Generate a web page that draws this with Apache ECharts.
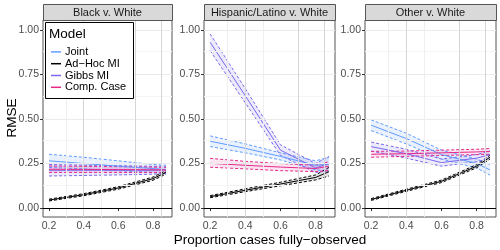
<!DOCTYPE html>
<html><head><meta charset="utf-8">
<script src="https://cdn.jsdelivr.net/npm/echarts@6/dist/echarts.min.js"></script>
<style>html,body{margin:0;padding:0;background:#fff}#c{width:500px;height:250px}</style>
</head><body><div id="c"></div>
<script>
// ---------- data ----------
const xValues = [0.2, 0.4, 0.6, 0.8, 0.875];
const panelTitles = ['Black v. White', 'Hispanic/Latino v. White', 'Other v. White'];
const modelNames = ['Joint', 'Ad\u2212Hoc MI', 'Gibbs MI', 'Comp. Case'];
const yTickValues = [0, 0.25, 0.5, 0.75, 1];
const xTickValues = [0.2, 0.4, 0.6, 0.8];
const yMajorGrid = [0, 0.25, 0.5, 0.75, 1];
const yMinorGrid = [0.125, 0.375, 0.625, 0.875];
const xDarkGrid = [0.4, 0.7, 0.85];
const xLightGrid = [0.3, 0.5];

// Black v. White
const blackJoint   = [0.265, 0.250, 0.235, 0.222, 0.215];
const blackJointLo = [0.228, 0.220, 0.210, 0.200, 0.195];
const blackJointHi = [0.302, 0.285, 0.265, 0.245, 0.240];
const blackAdhoc   = [0.045, 0.075, 0.113, 0.165, 0.200];
const blackAdhocLo = [0.040, 0.069, 0.106, 0.156, 0.190];
const blackAdhocHi = [0.050, 0.081, 0.120, 0.174, 0.210];
const blackGibbs   = [0.212, 0.212, 0.212, 0.212, 0.215];
const blackGibbsLo = [0.180, 0.183, 0.186, 0.190, 0.195];
const blackGibbsHi = [0.244, 0.241, 0.238, 0.234, 0.235];
const blackComp    = [0.218, 0.217, 0.216, 0.215, 0.213];
const blackCompLo  = [0.200, 0.200, 0.200, 0.200, 0.200];
const blackCompHi  = [0.236, 0.234, 0.232, 0.230, 0.228];

// Hispanic/Latino v. White
const hispJoint   = [0.375, 0.335, 0.290, 0.240, 0.245];
const hispJointLo = [0.345, 0.310, 0.270, 0.215, 0.205];
const hispJointHi = [0.405, 0.360, 0.310, 0.265, 0.285];
const hispAdhoc   = [0.064, 0.100, 0.135, 0.172, 0.204];
const hispAdhocLo = [0.058, 0.092, 0.125, 0.158, 0.180];
const hispAdhocHi = [0.070, 0.108, 0.145, 0.186, 0.228];
const hispGibbs   = [0.930, 0.630, 0.325, 0.225, 0.250];
const hispGibbsLo = [0.883, 0.590, 0.295, 0.200, 0.210];
const hispGibbsHi = [0.977, 0.670, 0.355, 0.250, 0.290];
const hispComp    = [0.251, 0.240, 0.230, 0.222, 0.235];
const hispCompLo  = [0.229, 0.220, 0.210, 0.205, 0.210];
const hispCompHi  = [0.279, 0.262, 0.250, 0.240, 0.260];

// Other v. White
const otherJoint   = [0.465, 0.390, 0.300, 0.250, 0.215];
const otherJointLo = [0.435, 0.360, 0.275, 0.225, 0.185];
const otherJointHi = [0.495, 0.420, 0.325, 0.275, 0.245];
const otherAdhoc   = [0.048, 0.100, 0.150, 0.235, 0.285];
const otherAdhocLo = [0.043, 0.094, 0.143, 0.226, 0.274];
const otherAdhocHi = [0.053, 0.106, 0.157, 0.244, 0.296];
const otherGibbs   = [0.345, 0.305, 0.255, 0.280, 0.300];
const otherGibbsLo = [0.320, 0.280, 0.235, 0.260, 0.280];
const otherGibbsHi = [0.370, 0.330, 0.275, 0.300, 0.320];
const otherComp    = [0.302, 0.305, 0.310, 0.315, 0.318];
const otherCompLo  = [0.285, 0.290, 0.295, 0.300, 0.302];
const otherCompHi  = [0.318, 0.320, 0.325, 0.330, 0.334];

// ---------- assembly ----------
const panels = [
  [[blackJoint, blackJointLo, blackJointHi], [blackAdhoc, blackAdhocLo, blackAdhocHi], [blackGibbs, blackGibbsLo, blackGibbsHi], [blackComp, blackCompLo, blackCompHi]],
  [[hispJoint, hispJointLo, hispJointHi], [hispAdhoc, hispAdhocLo, hispAdhocHi], [hispGibbs, hispGibbsLo, hispGibbsHi], [hispComp, hispCompLo, hispCompHi]],
  [[otherJoint, otherJointLo, otherJointHi], [otherAdhoc, otherAdhocLo, otherAdhocHi], [otherGibbs, otherGibbsLo, otherGibbsHi], [otherComp, otherCompLo, otherCompHi]]
];
const colors = ['#619CFF', '#000000', '#7B68EE', '#E7298A'];
const ribbonFill = ['rgba(97,156,255,0.14)', 'rgba(0,0,0,0.12)', 'rgba(123,104,238,0.14)', 'rgba(231,41,138,0.12)'];
const gridLeft = [43, 204, 365];
const gridWidth = [129, 131, 131];
const gridTop = 20, gridHeight = 197;
const FONT = 'Liberation Sans, Arial, sans-serif';

const pts = arr => xValues.map((x, i) => [x, arr[i]]);

const grids = [], xAxes = [], yAxes = [], series = [], graphics = [];
for (let p = 0; p < 3; p++) {
  grids.push({ left: gridLeft[p], top: gridTop, width: gridWidth[p], height: gridHeight,
    show: true, borderColor: '#555', borderWidth: 1, backgroundColor: '#fff' });
  xAxes.push({ type: 'value', gridIndex: p, min: 0.165, max: 0.91,
    axisLine: { show: false }, splitLine: { show: false },
    axisTick: { show: true, customValues: xTickValues, length: 3, lineStyle: { color: '#333' } },
    axisLabel: { customValues: xTickValues, formatter: v => v.toFixed(1), color: '#4D4D4D', fontSize: 10.5, fontFamily: FONT, margin: 4 } });
  yAxes.push({ type: 'value', gridIndex: p, min: -0.05, max: 1.055,
    axisLine: { show: false }, splitLine: { show: false },
    axisTick: { show: true, customValues: yTickValues, length: 3, lineStyle: { color: '#333' } },
    axisLabel: { customValues: yTickValues, formatter: v => v.toFixed(2), color: '#4D4D4D', fontSize: 10.5, fontFamily: FONT, margin: 4 } });

  // grid lines
  const gl = [];
  yMinorGrid.forEach(v => gl.push({ yAxis: v, lineStyle: { color: '#F4F4F4', width: 1, type: 'solid' } }));
  yMajorGrid.forEach(v => gl.push({ yAxis: v, lineStyle: { color: '#EBEBEB', width: 1, type: 'solid' } }));
  xLightGrid.forEach(v => gl.push({ xAxis: v, lineStyle: { color: '#EFEFEF', width: 1, type: 'solid' } }));
  xDarkGrid.forEach(v => gl.push({ xAxis: v, lineStyle: { color: '#D6D6D6', width: 1, type: 'solid' } }));
  series.push({ type: 'line', name: 'grid' + p, xAxisIndex: p, yAxisIndex: p, data: [], z: 0, silent: true,
    markLine: { silent: true, symbol: ['none', 'none'], label: { show: false }, animation: false, data: gl } });

  for (let m = 0; m < 4; m++) {
    const [mean, lo, hi] = panels[p][m];
    series.push({ type: 'line', name: modelNames[m], xAxisIndex: p, yAxisIndex: p, data: pts(mean),
      symbol: 'none', z: 4, lineStyle: { color: colors[m], width: 1 }, itemStyle: { color: colors[m] }, animation: false });
    [lo, hi].forEach(b => series.push({ type: 'line', name: modelNames[m], xAxisIndex: p, yAxisIndex: p, data: pts(b),
      symbol: 'none', z: 3, lineStyle: { color: colors[m], width: 1, type: [3, 2] }, itemStyle: { color: colors[m] }, animation: false }));
    series.push({ type: 'custom', name: modelNames[m], xAxisIndex: p, yAxisIndex: p, z: 2, silent: true, animation: false,
      data: [[xValues[0], lo[0]]],
      renderItem: (params, api) => {
        const poly = [];
        for (let i = 0; i < xValues.length; i++) poly.push(api.coord([xValues[i], hi[i]]));
        for (let i = xValues.length - 1; i >= 0; i--) poly.push(api.coord([xValues[i], lo[i]]));
        return { type: 'polygon', shape: { points: poly }, style: { fill: ribbonFill[m], stroke: null } };
      } });
  }
  // zero reference line
  series.push({ type: 'line', name: 'zero' + p, xAxisIndex: p, yAxisIndex: p, data: [], z: 5, silent: true,
    markLine: { silent: true, symbol: ['none', 'none'], label: { show: false }, animation: false,
      data: [{ yAxis: 0, lineStyle: { color: '#000', width: 1, type: 'solid' } }] } });

  // strip
  graphics.push({ type: 'rect', left: gridLeft[p], top: 4, shape: { width: gridWidth[p], height: 16 },
    style: { fill: '#D9D9D9', stroke: '#555', lineWidth: 1 }, z: 10 });
  graphics.push({ type: 'text', x: gridLeft[p] + gridWidth[p] / 2, y: 12.5,
    style: { text: panelTitles[p], fill: '#1A1A1A', font: '11px ' + FONT, textAlign: 'center', textVerticalAlign: 'middle' }, z: 11 });
}

// legend box + title
graphics.push({ type: 'rect', left: 45, top: 22, shape: { width: 88, height: 76 },
  style: { fill: '#fff', stroke: '#000', lineWidth: 1 }, z: 50 });
graphics.push({ type: 'text', x: 49, y: 34,
  style: { text: 'Model', fill: '#000', font: '13.5px ' + FONT, textVerticalAlign: 'middle' }, z: 51 });
// axis titles
graphics.push({ type: 'text', x: 270, y: 240,
  style: { text: 'Proportion cases fully\u2212observed', fill: '#000', font: '13.5px ' + FONT, textAlign: 'center', textVerticalAlign: 'middle' }, z: 51 });
graphics.push({ type: 'text', x: 12, y: 118, rotation: Math.PI / 2,
  style: { text: 'RMSE', fill: '#000', font: '13.5px ' + FONT, textAlign: 'center', textVerticalAlign: 'middle' }, z: 51 });

const chart = echarts.init(document.getElementById('c'), null, { renderer: 'canvas' });
chart.setOption({
  animation: false,
  grid: grids, xAxis: xAxes, yAxis: yAxes, series: series,
  graphic: graphics,
  legend: {
    show: true, orient: 'vertical', left: 51, top: 46, padding: 0, itemGap: 0, z: 60,
    itemWidth: 10, itemHeight: 1.5, icon: 'rect',
    textStyle: { fontSize: 11, fontFamily: FONT, color: '#000', lineHeight: 11.8, padding: [0, 0, 0, -1] },
    data: modelNames.map((n, m) => ({ name: n, itemStyle: { color: colors[m] } }))
  }
});
</script></body></html>
